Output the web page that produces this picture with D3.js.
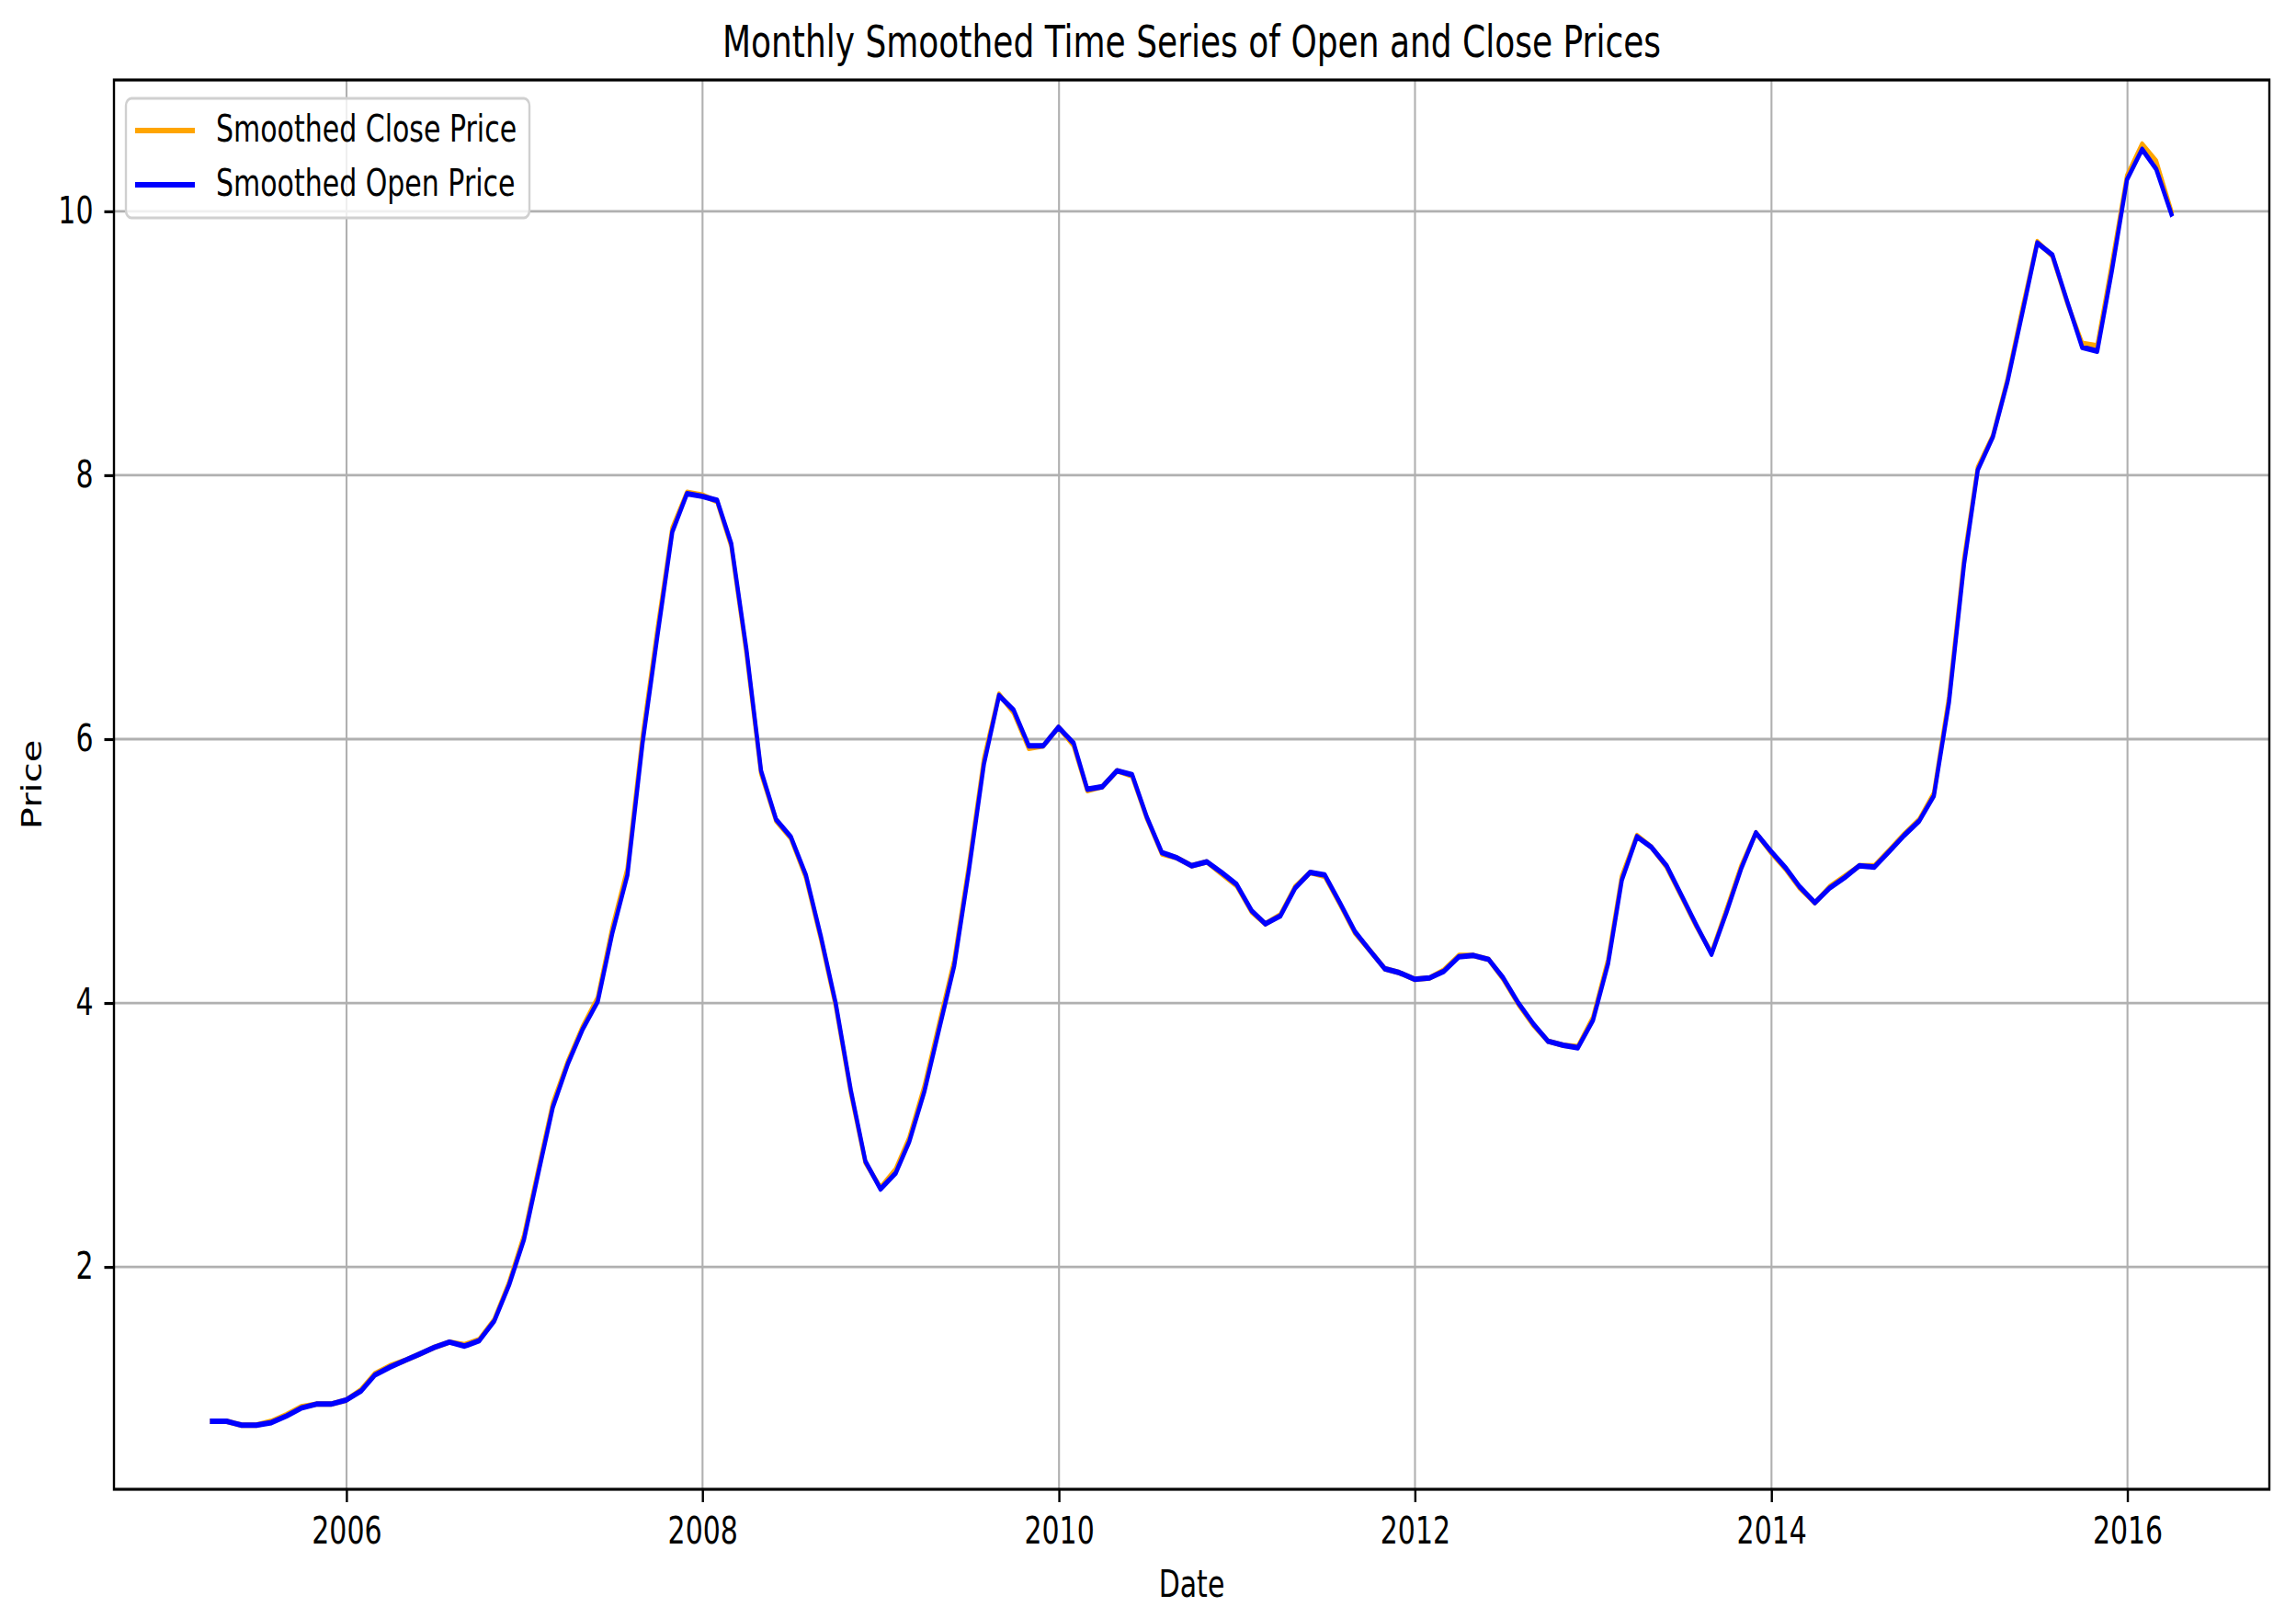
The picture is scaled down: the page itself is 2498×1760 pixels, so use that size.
<!DOCTYPE html>
<html>
<head>
<meta charset="utf-8">
<script src="https://cdn.jsdelivr.net/npm/d3@7"></script>
<style>
  html, body { margin: 0; padding: 0; background: #ffffff; }
  svg { display: block; }
  text { font-family: "DejaVu Sans", sans-serif; fill: #000; }
</style>
</head>
<body>
<script>
// ---------- DATA ----------
const startMonth = "2005-03";   // first monthly (month-end) observation
const seriesNames = ["Smoothed Close Price", "Smoothed Open Price"];
const seriesColors = ["orange", "blue"];

const openPrice = [
  0.83, 0.83, 0.80, 0.80, 0.82, 0.87, 0.93, 0.96, 0.96, 0.99,
  1.06, 1.18, 1.24, 1.29, 1.34, 1.39, 1.43, 1.40, 1.44, 1.59, 1.86, 2.21,
  2.74, 3.21, 3.54, 3.80, 4.01, 4.53, 4.97, 5.97, 6.77, 7.57, 7.86, 7.84,
  7.81, 7.48, 6.68, 5.76, 5.39, 5.26, 4.97, 4.50, 4.00, 3.34, 2.80, 2.59,
  2.71, 2.95, 3.33, 3.80, 4.28, 5.00, 5.81, 6.33, 6.22, 5.95, 5.95, 6.09,
  5.97, 5.62, 5.64, 5.76, 5.73, 5.41, 5.14, 5.10, 5.04, 5.07, 4.99, 4.90,
  4.70, 4.60, 4.66, 4.87, 4.99, 4.97, 4.76, 4.54, 4.40, 4.26, 4.23, 4.18,
  4.19, 4.24, 4.35, 4.36, 4.33, 4.19, 4.00, 3.84, 3.71, 3.68, 3.66, 3.87,
  4.30, 4.93, 5.26, 5.18, 5.04, 4.82, 4.59, 4.37, 4.68, 5.02, 5.29, 5.15,
  5.02, 4.88, 4.76, 4.87, 4.95, 5.04, 5.03, 5.15, 5.27, 5.38, 5.57, 6.28,
  7.33, 8.04, 8.29, 8.71, 9.24, 9.76, 9.67, 9.31, 8.97, 8.94, 9.55, 10.24,
  10.47, 10.32, 9.98
];

const closePrice = [
  0.83, 0.83, 0.80, 0.80, 0.83, 0.88, 0.94, 0.96, 0.96, 0.99,
  1.07, 1.19, 1.25, 1.29, 1.34, 1.39, 1.43, 1.41, 1.45, 1.60, 1.88, 2.24,
  2.77, 3.24, 3.56, 3.82, 4.04, 4.57, 5.02, 6.02, 6.82, 7.60, 7.87, 7.85,
  7.80, 7.46, 6.65, 5.74, 5.38, 5.25, 4.95, 4.48, 3.98, 3.32, 2.79, 2.60,
  2.74, 2.98, 3.37, 3.84, 4.32, 5.04, 5.85, 6.34, 6.20, 5.93, 5.95, 6.09,
  5.95, 5.61, 5.64, 5.76, 5.72, 5.40, 5.13, 5.10, 5.04, 5.07, 4.98, 4.89,
  4.69, 4.60, 4.67, 4.88, 4.99, 4.96, 4.75, 4.53, 4.40, 4.26, 4.23, 4.18,
  4.19, 4.25, 4.36, 4.36, 4.33, 4.18, 3.99, 3.83, 3.71, 3.68, 3.67, 3.89,
  4.33, 4.96, 5.27, 5.18, 5.03, 4.81, 4.58, 4.38, 4.70, 5.04, 5.29, 5.14,
  5.01, 4.87, 4.76, 4.88, 4.96, 5.04, 5.04, 5.16, 5.28, 5.39, 5.59, 6.32,
  7.37, 8.06, 8.30, 8.73, 9.27, 9.77, 9.66, 9.30, 9.00, 8.98, 9.60, 10.27,
  10.51, 10.38, 10.00
];

const xTickYears = [2006, 2008, 2010, 2012, 2014, 2016];
const yTickValues = [2, 4, 6, 8, 10];
const titleText = "Monthly Smoothed Time Series of Open and Close Prices";
const xLabelText = "Date";
const yLabelText = "Price";

// ---------- LAYOUT ----------
const W = 2498, H = 1760;
const K = 0.75;               // horizontal squeeze of the original figure
const M = { left: 124 / K, right: 2469 / K, top: 87, bottom: 1620 };
const FS = 40, TFS = 48;

// month-end dates
const [sy, sm] = startMonth.split("-").map(Number);
const dates = openPrice.map((_, i) => new Date(sy, sm - 1 + i + 1, 0));

const xExt = d3.extent(dates);
const xPad = (xExt[1] - xExt[0]) * 0.05;
const x = d3.scaleTime()
  .domain([new Date(+xExt[0] - xPad), new Date(+xExt[1] + xPad)])
  .range([M.left, M.right]);

const allVals = openPrice.concat(closePrice);
const yMin = d3.min(allVals), yMax = d3.max(allVals);
const yPad = (yMax - yMin) * 0.05;
const y = d3.scaleLinear()
  .domain([yMin - yPad, yMax + yPad])
  .range([M.bottom, M.top]);

const svg = d3.select("body").append("svg")
  .attr("width", W).attr("height", H)
  .attr("viewBox", `0 0 ${W} ${H}`);
svg.append("rect").attr("width", W).attr("height", H).attr("fill", "#fff");

const g = svg.append("g").attr("transform", `scale(${K},1)`);

const xTicks = xTickYears.map(yr => new Date(yr, 0, 1));

// grid
const grid = g.append("g").attr("stroke", "#b0b0b0").attr("stroke-width", 2.8);
grid.selectAll("line.gx").data(xTicks).join("line")
  .attr("class", "gx")
  .attr("x1", d => x(d)).attr("x2", d => x(d))
  .attr("y1", M.top).attr("y2", M.bottom);
grid.selectAll("line.gy").data(yTickValues).join("line")
  .attr("class", "gy")
  .attr("x1", M.left).attr("x2", M.right)
  .attr("y1", d => y(d)).attr("y2", d => y(d));

// lines
const line = d3.line().x((d, i) => x(dates[i])).y(d => y(d));
[closePrice, openPrice].forEach((s, k) => {
  g.append("path")
    .datum(s)
    .attr("d", line)
    .attr("fill", "none")
    .attr("stroke", seriesColors[k])
    .attr("stroke-width", 6)
    .attr("stroke-linejoin", "round")
    .attr("stroke-linecap", "square");
});

// axes
const xAxis = d3.axisBottom(x).tickValues(xTicks)
  .tickFormat(d3.timeFormat("%Y")).tickSize(14).tickPadding(17);
const gx = g.append("g").attr("transform", `translate(0,${M.bottom})`).call(xAxis);
const yAxis = d3.axisLeft(y).tickValues(yTickValues)
  .tickFormat(d3.format("d")).tickSize(14).tickPadding(16);
const gy = g.append("g").attr("transform", `translate(${M.left},0)`).call(yAxis);
[gx, gy].forEach(a => {
  a.select(".domain").remove();
  a.selectAll(".tick line").attr("stroke", "#000").attr("stroke-width", 3.2);
  a.selectAll(".tick text")
    .attr("font-family", "DejaVu Sans").attr("font-size", FS).attr("fill", "#000");
});

// spines
g.append("rect")
  .attr("x", M.left).attr("y", M.top)
  .attr("width", M.right - M.left).attr("height", M.bottom - M.top)
  .attr("fill", "none").attr("stroke", "#000").attr("stroke-width", 3.2);

// title & labels
g.append("text")
  .attr("x", (M.left + M.right) / 2).attr("y", 62)
  .attr("text-anchor", "middle").attr("font-size", TFS)
  .text(titleText);
g.append("text")
  .attr("x", (M.left + M.right) / 2).attr("y", 1737)
  .attr("text-anchor", "middle").attr("font-size", FS)
  .text(xLabelText);
g.append("text")
  .attr("transform", `translate(${45 / K},${(M.top + M.bottom) / 2}) rotate(-90)`)
  .attr("text-anchor", "middle").attr("font-size", FS)
  .text(yLabelText);

// legend
const lg = g.append("g");
lg.append("rect")
  .attr("x", 137 / K).attr("y", 107)
  .attr("width", (576 - 137) / K).attr("height", 130)
  .attr("rx", 8).attr("ry", 8)
  .attr("fill", "#fff").attr("fill-opacity", 0.8)
  .attr("stroke", "#d0d0d0").attr("stroke-width", 3.2);
const legendRows = [142, 201];
seriesNames.forEach((name, k) => {
  lg.append("line")
    .attr("x1", 147 / K).attr("x2", 212 / K)
    .attr("y1", legendRows[k]).attr("y2", legendRows[k])
    .attr("stroke", seriesColors[k]).attr("stroke-width", 6);
  lg.append("text")
    .attr("x", 235 / K).attr("y", legendRows[k] + 12)
    .attr("font-size", FS)
    .text(name);
});
</script>
</body>
</html>
